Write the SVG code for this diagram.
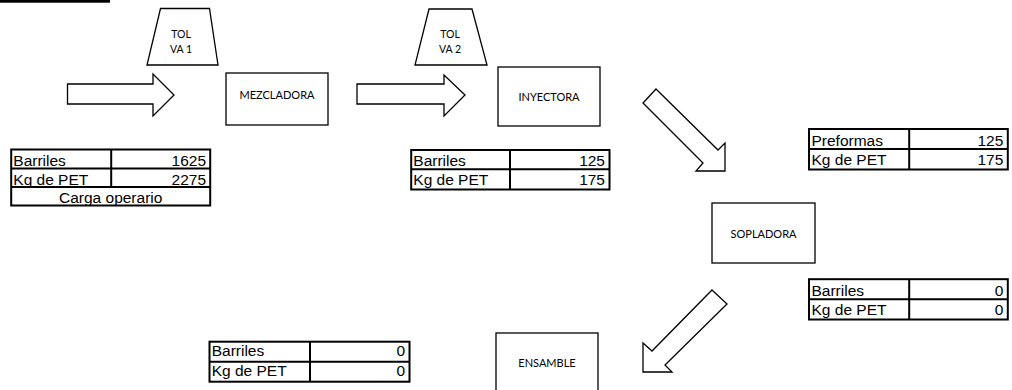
<svg xmlns="http://www.w3.org/2000/svg" width="1012" height="390" viewBox="0 0 1012 390">
<style>
.bg{fill:#fff}
.shape{fill:#fff;stroke:#000;stroke-width:1.3;stroke-linejoin:miter}
.grid{fill:none;stroke:#000;stroke-width:2}
.lbl{font-family:Lato,"Open Sans",sans-serif;font-size:11px;fill:#000;text-anchor:middle}
.tol{font-family:Lato,"Open Sans",sans-serif;font-size:10.5px;fill:#000;text-anchor:middle}
.cell{font-family:"Liberation Sans",Arial,sans-serif;font-size:15.5px;fill:#000}
.num{text-anchor:end}
.mid{text-anchor:middle}
</style>
<rect class="bg" x="0" y="0" width="1012" height="390"/>
<rect x="0" y="0" width="110" height="2.7" fill="#000"/>

<g id="connectors">
<polygon class="shape" points="67.5,84 153,84 153,74 174,95 153,116 153,104 67.5,104"/>
<polygon class="shape" points="357,84 444,84 444,75 465,95 444,116 444,104 357,104"/>
<polygon class="shape" points="656,89 718,150 725,143 725,171 696,171 703,163 643,103"/>
<polygon class="shape" points="712,290 727,304 665,365 672,372 643,372 643,343 652,351"/>
</g>

<g id="tolva1">
<polygon class="shape" points="160.5,8.5 209.5,8.5 218,65 147,65"/>
<text class="tol" x="181" y="37.5">TOL</text>
<text class="tol" x="181" y="52.5">VA 1</text>
</g>

<g id="tolva2">
<polygon class="shape" points="429,9 472,9 487,65 415,65"/>
<text class="tol" x="450" y="37.5">TOL</text>
<text class="tol" x="450" y="52.5">VA 2</text>
</g>

<g id="mezcladora">
<rect class="shape" x="226" y="73" width="102" height="52"/>
<text class="lbl" x="277" y="99">MEZCLADORA</text>
</g>

<g id="inyectora">
<rect class="shape" x="498" y="67" width="102" height="59"/>
<text class="lbl" x="549" y="101">INYECTORA</text>
</g>

<g id="sopladora">
<rect class="shape" x="712" y="203" width="103" height="60"/>
<text class="lbl" x="763.5" y="237.5">SOPLADORA</text>
</g>

<g id="ensamble">
<rect class="shape" x="496" y="333" width="102" height="70"/>
<text class="lbl" x="547" y="367">ENSAMBLE</text>
</g>

<g id="tabla1">
<rect class="grid" x="11.2" y="149.5" width="199" height="56"/>
<line class="grid" x1="11.2" y1="168.5" x2="210.2" y2="168.5"/>
<line class="grid" x1="11.2" y1="187" x2="210.2" y2="187"/>
<line class="grid" x1="111.2" y1="149.5" x2="111.2" y2="187"/>
<text class="cell" x="13.3" y="166">Barriles</text>
<text class="cell num" x="206" y="166">1625</text>
<text class="cell" x="13.3" y="184.8">Kg de PET</text>
<text class="cell num" x="206" y="184.8">2275</text>
<text class="cell mid" x="110.7" y="203">Carga operario</text>
</g>

<g id="tabla2">
<rect class="grid" x="411.2" y="150" width="198.3" height="39.5"/>
<line class="grid" x1="411.2" y1="169.2" x2="609.5" y2="169.2"/>
<line class="grid" x1="510" y1="150" x2="510" y2="189.5"/>
<text class="cell" x="413.3" y="166.2">Barriles</text>
<text class="cell num" x="605" y="166.2">125</text>
<text class="cell" x="413.3" y="185.3">Kg de PET</text>
<text class="cell num" x="605" y="185.3">175</text>
</g>

<g id="tabla3">
<rect class="grid" x="809" y="129" width="198.8" height="40.5"/>
<line class="grid" x1="809" y1="149" x2="1007.8" y2="149"/>
<line class="grid" x1="909.2" y1="129" x2="909.2" y2="169.5"/>
<text class="cell" x="811.5" y="145.7">Preformas</text>
<text class="cell num" x="1003.3" y="145.7">125</text>
<text class="cell" x="811.5" y="165.3">Kg de PET</text>
<text class="cell num" x="1003.3" y="165.3">175</text>
</g>

<g id="tabla4">
<rect class="grid" x="809" y="279.2" width="198.8" height="40.3"/>
<line class="grid" x1="809" y1="299.2" x2="1007.8" y2="299.2"/>
<line class="grid" x1="909.2" y1="279.2" x2="909.2" y2="319.5"/>
<text class="cell" x="811.5" y="296.2">Barriles</text>
<text class="cell num" x="1003.3" y="296.2">0</text>
<text class="cell" x="811.5" y="315.3">Kg de PET</text>
<text class="cell num" x="1003.3" y="315.3">0</text>
</g>

<g id="tabla5">
<rect class="grid" x="209.5" y="341.7" width="200" height="40"/>
<line class="grid" x1="209.5" y1="361.7" x2="409.5" y2="361.7"/>
<line class="grid" x1="310" y1="341.7" x2="310" y2="381.7"/>
<text class="cell" x="211.7" y="356.3">Barriles</text>
<text class="cell num" x="405" y="356.3">0</text>
<text class="cell" x="211.7" y="375.6">Kg de PET</text>
<text class="cell num" x="405" y="375.6">0</text>
</g>
</svg>
